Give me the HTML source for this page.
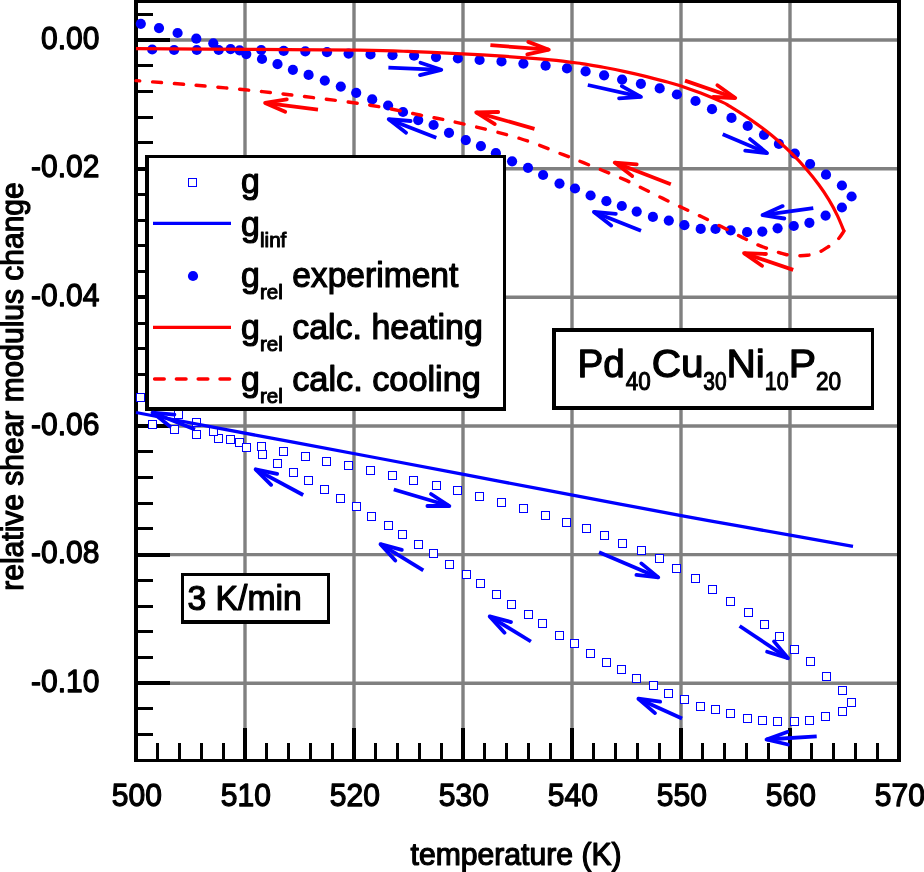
<!DOCTYPE html><html><head><meta charset="utf-8"><title>chart</title>
<style>html,body{margin:0;padding:0;background:#fff}svg{display:block;will-change:transform}text{font-family:"Liberation Sans",sans-serif;fill:#000;stroke:#000;stroke-width:1.2px;stroke-linejoin:round}.sub{stroke-width:1.0px}</style></head><body>
<svg width="924" height="872" viewBox="0 0 924 872">
<rect x="0" y="0" width="924" height="872" fill="#fff"/>
<g stroke="#808080" fill="none">
<line x1="136.0" y1="40.0" x2="899.0" y2="40.0" stroke-width="3.4"/>
<line x1="136.0" y1="168.7" x2="899.0" y2="168.7" stroke-width="3.4"/>
<line x1="136.0" y1="297.3" x2="899.0" y2="297.3" stroke-width="3.4"/>
<line x1="136.0" y1="426.0" x2="899.0" y2="426.0" stroke-width="3.4"/>
<line x1="136.0" y1="554.6" x2="899.0" y2="554.6" stroke-width="3.4"/>
<line x1="136.0" y1="683.2" x2="899.0" y2="683.2" stroke-width="3.4"/>
<line x1="245.0" y1="1.5" x2="245.0" y2="760.5" stroke-width="3.4"/>
<line x1="354.0" y1="1.5" x2="354.0" y2="760.5" stroke-width="3.4"/>
<line x1="463.0" y1="1.5" x2="463.0" y2="760.5" stroke-width="3.4"/>
<line x1="572.0" y1="1.5" x2="572.0" y2="760.5" stroke-width="3.4"/>
<line x1="681.0" y1="1.5" x2="681.0" y2="760.5" stroke-width="3.4"/>
<line x1="790.0" y1="1.5" x2="790.0" y2="760.5" stroke-width="3.4"/>
</g>
<g stroke="#000" fill="none" shape-rendering="crispEdges">
<line x1="136.0" y1="14.27" x2="153.0" y2="14.27" stroke-width="3"/>
<line x1="136.0" y1="40.00" x2="169.8" y2="40.00" stroke-width="4"/>
<line x1="136.0" y1="65.73" x2="153.0" y2="65.73" stroke-width="3"/>
<line x1="136.0" y1="91.46" x2="153.0" y2="91.46" stroke-width="3"/>
<line x1="136.0" y1="117.19" x2="153.0" y2="117.19" stroke-width="3"/>
<line x1="136.0" y1="142.92" x2="153.0" y2="142.92" stroke-width="3"/>
<line x1="136.0" y1="168.65" x2="169.8" y2="168.65" stroke-width="4"/>
<line x1="136.0" y1="194.38" x2="153.0" y2="194.38" stroke-width="3"/>
<line x1="136.0" y1="220.11" x2="153.0" y2="220.11" stroke-width="3"/>
<line x1="136.0" y1="245.84" x2="153.0" y2="245.84" stroke-width="3"/>
<line x1="136.0" y1="271.57" x2="153.0" y2="271.57" stroke-width="3"/>
<line x1="136.0" y1="297.30" x2="169.8" y2="297.30" stroke-width="4"/>
<line x1="136.0" y1="323.03" x2="153.0" y2="323.03" stroke-width="3"/>
<line x1="136.0" y1="348.76" x2="153.0" y2="348.76" stroke-width="3"/>
<line x1="136.0" y1="374.49" x2="153.0" y2="374.49" stroke-width="3"/>
<line x1="136.0" y1="400.22" x2="153.0" y2="400.22" stroke-width="3"/>
<line x1="136.0" y1="425.95" x2="169.8" y2="425.95" stroke-width="4"/>
<line x1="136.0" y1="451.68" x2="153.0" y2="451.68" stroke-width="3"/>
<line x1="136.0" y1="477.41" x2="153.0" y2="477.41" stroke-width="3"/>
<line x1="136.0" y1="503.14" x2="153.0" y2="503.14" stroke-width="3"/>
<line x1="136.0" y1="528.87" x2="153.0" y2="528.87" stroke-width="3"/>
<line x1="136.0" y1="554.60" x2="169.8" y2="554.60" stroke-width="4"/>
<line x1="136.0" y1="580.33" x2="153.0" y2="580.33" stroke-width="3"/>
<line x1="136.0" y1="606.06" x2="153.0" y2="606.06" stroke-width="3"/>
<line x1="136.0" y1="631.79" x2="153.0" y2="631.79" stroke-width="3"/>
<line x1="136.0" y1="657.52" x2="153.0" y2="657.52" stroke-width="3"/>
<line x1="136.0" y1="683.25" x2="169.8" y2="683.25" stroke-width="4"/>
<line x1="136.0" y1="708.98" x2="153.0" y2="708.98" stroke-width="3"/>
<line x1="136.0" y1="734.71" x2="153.0" y2="734.71" stroke-width="3"/>
<line x1="157.80" y1="760.5" x2="157.80" y2="743.1" stroke-width="3"/>
<line x1="179.60" y1="760.5" x2="179.60" y2="743.1" stroke-width="3"/>
<line x1="201.40" y1="760.5" x2="201.40" y2="743.1" stroke-width="3"/>
<line x1="223.20" y1="760.5" x2="223.20" y2="743.1" stroke-width="3"/>
<line x1="245.00" y1="760.5" x2="245.00" y2="727.6" stroke-width="4"/>
<line x1="266.80" y1="760.5" x2="266.80" y2="743.1" stroke-width="3"/>
<line x1="288.60" y1="760.5" x2="288.60" y2="743.1" stroke-width="3"/>
<line x1="310.40" y1="760.5" x2="310.40" y2="743.1" stroke-width="3"/>
<line x1="332.20" y1="760.5" x2="332.20" y2="743.1" stroke-width="3"/>
<line x1="354.00" y1="760.5" x2="354.00" y2="727.6" stroke-width="4"/>
<line x1="375.80" y1="760.5" x2="375.80" y2="743.1" stroke-width="3"/>
<line x1="397.60" y1="760.5" x2="397.60" y2="743.1" stroke-width="3"/>
<line x1="419.40" y1="760.5" x2="419.40" y2="743.1" stroke-width="3"/>
<line x1="441.20" y1="760.5" x2="441.20" y2="743.1" stroke-width="3"/>
<line x1="463.00" y1="760.5" x2="463.00" y2="727.6" stroke-width="4"/>
<line x1="484.80" y1="760.5" x2="484.80" y2="743.1" stroke-width="3"/>
<line x1="506.60" y1="760.5" x2="506.60" y2="743.1" stroke-width="3"/>
<line x1="528.40" y1="760.5" x2="528.40" y2="743.1" stroke-width="3"/>
<line x1="550.20" y1="760.5" x2="550.20" y2="743.1" stroke-width="3"/>
<line x1="572.00" y1="760.5" x2="572.00" y2="727.6" stroke-width="4"/>
<line x1="593.80" y1="760.5" x2="593.80" y2="743.1" stroke-width="3"/>
<line x1="615.60" y1="760.5" x2="615.60" y2="743.1" stroke-width="3"/>
<line x1="637.40" y1="760.5" x2="637.40" y2="743.1" stroke-width="3"/>
<line x1="659.20" y1="760.5" x2="659.20" y2="743.1" stroke-width="3"/>
<line x1="681.00" y1="760.5" x2="681.00" y2="727.6" stroke-width="4"/>
<line x1="702.80" y1="760.5" x2="702.80" y2="743.1" stroke-width="3"/>
<line x1="724.60" y1="760.5" x2="724.60" y2="743.1" stroke-width="3"/>
<line x1="746.40" y1="760.5" x2="746.40" y2="743.1" stroke-width="3"/>
<line x1="768.20" y1="760.5" x2="768.20" y2="743.1" stroke-width="3"/>
<line x1="790.00" y1="760.5" x2="790.00" y2="727.6" stroke-width="4"/>
<line x1="811.80" y1="760.5" x2="811.80" y2="743.1" stroke-width="3"/>
<line x1="833.60" y1="760.5" x2="833.60" y2="743.1" stroke-width="3"/>
<line x1="855.40" y1="760.5" x2="855.40" y2="743.1" stroke-width="3"/>
<line x1="877.20" y1="760.5" x2="877.20" y2="743.1" stroke-width="3"/>
</g>
<g fill="#000" shape-rendering="crispEdges"><rect x="134" y="0" width="4" height="762"/><rect x="897" y="0" width="4" height="762"/><rect x="134" y="0" width="767" height="3"/><rect x="134" y="759" width="767" height="3"/></g>
<g fill="#fff" stroke="#0000ff" stroke-width="1" shape-rendering="crispEdges">
<rect x="148.5" y="420.5" width="8" height="8"/>
<rect x="170.5" y="425.5" width="8" height="8"/>
<rect x="192.5" y="430.5" width="8" height="8"/>
<rect x="214.5" y="434.5" width="8" height="8"/>
<rect x="235.5" y="438.5" width="8" height="8"/>
<rect x="257.5" y="442.5" width="8" height="8"/>
<rect x="279.5" y="447.5" width="8" height="8"/>
<rect x="301.5" y="452.5" width="8" height="8"/>
<rect x="322.5" y="457.5" width="8" height="8"/>
<rect x="344.5" y="461.5" width="8" height="8"/>
<rect x="366.5" y="466.5" width="8" height="8"/>
<rect x="388.5" y="471.5" width="8" height="8"/>
<rect x="409.5" y="476.5" width="8" height="8"/>
<rect x="432.5" y="481.5" width="8" height="8"/>
<rect x="453.5" y="486.5" width="8" height="8"/>
<rect x="475.5" y="492.5" width="8" height="8"/>
<rect x="497.5" y="498.5" width="8" height="8"/>
<rect x="519.5" y="504.5" width="8" height="8"/>
<rect x="541.5" y="511.5" width="8" height="8"/>
<rect x="562.5" y="518.5" width="8" height="8"/>
<rect x="582.5" y="524.5" width="8" height="8"/>
<rect x="600.5" y="531.5" width="8" height="8"/>
<rect x="618.5" y="539.5" width="8" height="8"/>
<rect x="637.5" y="546.5" width="8" height="8"/>
<rect x="655.5" y="554.5" width="8" height="8"/>
<rect x="672.5" y="564.5" width="8" height="8"/>
<rect x="691.5" y="574.5" width="8" height="8"/>
<rect x="708.5" y="585.5" width="8" height="8"/>
<rect x="726.5" y="597.5" width="8" height="8"/>
<rect x="744.5" y="608.5" width="8" height="8"/>
<rect x="760.5" y="620.5" width="8" height="8"/>
<rect x="775.5" y="632.5" width="8" height="8"/>
<rect x="790.5" y="645.5" width="8" height="8"/>
<rect x="806.5" y="657.5" width="8" height="8"/>
<rect x="822.5" y="672.5" width="8" height="8"/>
<rect x="838.5" y="686.5" width="8" height="8"/>
<rect x="847.5" y="698.5" width="8" height="8"/>
<rect x="838.5" y="707.5" width="8" height="8"/>
<rect x="821.5" y="712.5" width="8" height="8"/>
<rect x="805.5" y="716.5" width="8" height="8"/>
<rect x="790.5" y="717.5" width="8" height="8"/>
<rect x="773.5" y="717.5" width="8" height="8"/>
<rect x="758.5" y="716.5" width="8" height="8"/>
<rect x="743.5" y="714.5" width="8" height="8"/>
<rect x="726.5" y="709.5" width="8" height="8"/>
<rect x="711.5" y="705.5" width="8" height="8"/>
<rect x="696.5" y="702.5" width="8" height="8"/>
<rect x="680.5" y="695.5" width="8" height="8"/>
<rect x="664.5" y="689.5" width="8" height="8"/>
<rect x="649.5" y="681.5" width="8" height="8"/>
<rect x="632.5" y="674.5" width="8" height="8"/>
<rect x="617.5" y="665.5" width="8" height="8"/>
<rect x="602.5" y="658.5" width="8" height="8"/>
<rect x="586.5" y="649.5" width="8" height="8"/>
<rect x="570.5" y="639.5" width="8" height="8"/>
<rect x="555.5" y="631.5" width="8" height="8"/>
<rect x="538.5" y="619.5" width="8" height="8"/>
<rect x="524.5" y="610.5" width="8" height="8"/>
<rect x="507.5" y="600.5" width="8" height="8"/>
<rect x="492.5" y="590.5" width="8" height="8"/>
<rect x="476.5" y="579.5" width="8" height="8"/>
<rect x="462.5" y="570.5" width="8" height="8"/>
<rect x="445.5" y="560.5" width="8" height="8"/>
<rect x="429.5" y="549.5" width="8" height="8"/>
<rect x="414.5" y="540.5" width="8" height="8"/>
<rect x="398.5" y="530.5" width="8" height="8"/>
<rect x="384.5" y="521.5" width="8" height="8"/>
<rect x="367.5" y="512.5" width="8" height="8"/>
<rect x="352.5" y="502.5" width="8" height="8"/>
<rect x="336.5" y="494.5" width="8" height="8"/>
<rect x="320.5" y="485.5" width="8" height="8"/>
<rect x="304.5" y="476.5" width="8" height="8"/>
<rect x="289.5" y="468.5" width="8" height="8"/>
<rect x="273.5" y="459.5" width="8" height="8"/>
<rect x="258.5" y="450.5" width="8" height="8"/>
<rect x="242.5" y="443.5" width="8" height="8"/>
<rect x="226.5" y="435.5" width="8" height="8"/>
<rect x="209.5" y="427.5" width="8" height="8"/>
<rect x="192.5" y="418.5" width="8" height="8"/>
<rect x="174.5" y="410.5" width="8" height="8"/>
<rect x="154.5" y="401.5" width="8" height="8"/>
<rect x="136.5" y="393.5" width="8" height="8"/>
</g>
<path d="M136.0 412.5 C156.3 416.4 217.3 427.9 258.0 435.6 C298.7 443.3 339.7 450.9 380.0 458.5 C420.3 466.1 460.0 473.8 500.0 481.4 C540.0 489.0 585.0 497.5 620.0 504.1 C655.0 510.7 680.0 515.3 710.0 520.8 C740.0 526.3 776.2 532.6 800.0 536.9 C823.8 541.2 844.2 544.8 853.0 546.4" stroke="#0000ff" stroke-width="3.3" fill="none"/>
<g fill="#0000ff">
<circle cx="152.2" cy="49.5" r="5.1"/>
<circle cx="174.1" cy="50.0" r="5.1"/>
<circle cx="196.8" cy="50.0" r="5.1"/>
<circle cx="218.7" cy="50.0" r="5.1"/>
<circle cx="239.6" cy="50.3" r="5.1"/>
<circle cx="261.2" cy="50.0" r="5.1"/>
<circle cx="283.7" cy="50.9" r="5.1"/>
<circle cx="305.3" cy="51.4" r="5.1"/>
<circle cx="327.0" cy="52.2" r="5.1"/>
<circle cx="348.6" cy="53.6" r="5.1"/>
<circle cx="370.5" cy="54.4" r="5.1"/>
<circle cx="392.5" cy="55.2" r="5.1"/>
<circle cx="414.1" cy="55.7" r="5.1"/>
<circle cx="436.0" cy="57.1" r="5.1"/>
<circle cx="457.9" cy="58.4" r="5.1"/>
<circle cx="479.6" cy="60.0" r="5.1"/>
<circle cx="501.5" cy="61.4" r="5.1"/>
<circle cx="523.4" cy="63.6" r="5.1"/>
<circle cx="545.6" cy="65.7" r="5.1"/>
<circle cx="567.0" cy="68.4" r="5.1"/>
<circle cx="585.6" cy="71.4" r="5.1"/>
<circle cx="604.1" cy="75.3" r="5.1"/>
<circle cx="622.1" cy="79.6" r="5.1"/>
<circle cx="640.9" cy="83.8" r="5.1"/>
<circle cx="659.7" cy="88.4" r="5.1"/>
<circle cx="676.9" cy="94.5" r="5.1"/>
<circle cx="695.5" cy="101.0" r="5.1"/>
<circle cx="712.0" cy="109.2" r="5.1"/>
<circle cx="731.5" cy="117.9" r="5.1"/>
<circle cx="747.7" cy="126.0" r="5.1"/>
<circle cx="764.0" cy="134.8" r="5.1"/>
<circle cx="778.9" cy="143.9" r="5.1"/>
<circle cx="794.8" cy="153.6" r="5.1"/>
<circle cx="810.1" cy="164.0" r="5.1"/>
<circle cx="826.0" cy="174.7" r="5.1"/>
<circle cx="841.9" cy="185.5" r="5.1"/>
<circle cx="851.6" cy="196.5" r="5.1"/>
<circle cx="841.9" cy="207.5" r="5.1"/>
<circle cx="825.6" cy="215.6" r="5.1"/>
<circle cx="809.4" cy="222.8" r="5.1"/>
<circle cx="793.8" cy="226.0" r="5.1"/>
<circle cx="777.6" cy="228.3" r="5.1"/>
<circle cx="762.3" cy="231.6" r="5.1"/>
<circle cx="747.1" cy="232.2" r="5.1"/>
<circle cx="730.6" cy="230.4" r="5.1"/>
<circle cx="715.5" cy="229.0" r="5.1"/>
<circle cx="700.7" cy="228.9" r="5.1"/>
<circle cx="684.4" cy="225.2" r="5.1"/>
<circle cx="668.8" cy="220.6" r="5.1"/>
<circle cx="652.9" cy="216.9" r="5.1"/>
<circle cx="636.7" cy="211.6" r="5.1"/>
<circle cx="621.8" cy="206.0" r="5.1"/>
<circle cx="606.4" cy="201.2" r="5.1"/>
<circle cx="590.6" cy="195.5" r="5.1"/>
<circle cx="575.0" cy="188.5" r="5.1"/>
<circle cx="559.5" cy="183.6" r="5.1"/>
<circle cx="543.1" cy="175.0" r="5.1"/>
<circle cx="528.0" cy="167.8" r="5.1"/>
<circle cx="512.1" cy="161.3" r="5.1"/>
<circle cx="495.9" cy="153.2" r="5.1"/>
<circle cx="480.9" cy="146.1" r="5.1"/>
<circle cx="465.8" cy="140.1" r="5.1"/>
<circle cx="449.0" cy="132.8" r="5.1"/>
<circle cx="433.6" cy="125.0" r="5.1"/>
<circle cx="418.2" cy="120.1" r="5.1"/>
<circle cx="403.0" cy="112.0" r="5.1"/>
<circle cx="388.1" cy="105.5" r="5.1"/>
<circle cx="372.2" cy="99.4" r="5.1"/>
<circle cx="356.2" cy="92.8" r="5.1"/>
<circle cx="340.8" cy="86.6" r="5.1"/>
<circle cx="324.8" cy="80.6" r="5.1"/>
<circle cx="308.6" cy="74.9" r="5.1"/>
<circle cx="292.9" cy="69.8" r="5.1"/>
<circle cx="277.5" cy="64.1" r="5.1"/>
<circle cx="262.0" cy="59.0" r="5.1"/>
<circle cx="246.3" cy="54.1" r="5.1"/>
<circle cx="230.6" cy="49.2" r="5.1"/>
<circle cx="213.3" cy="43.3" r="5.1"/>
<circle cx="196.3" cy="38.7" r="5.1"/>
<circle cx="177.6" cy="33.0" r="5.1"/>
<circle cx="159.0" cy="28.1" r="5.1"/>
<circle cx="140.8" cy="23.8" r="5.1"/>
</g>
<path d="M136.0 48.7 C155.0 48.8 212.7 49.0 250.0 49.3 C287.3 49.5 333.7 49.9 360.0 50.2 C386.3 50.6 390.5 50.8 407.6 51.4 C424.7 52.0 446.5 53.0 462.4 53.8 C478.3 54.6 488.2 55.2 502.9 56.2 C517.6 57.2 537.4 58.6 550.5 59.8 C563.6 61.0 572.8 62.4 581.6 63.6 C590.4 64.8 596.1 66.0 603.3 67.3 C610.5 68.6 617.7 70.0 624.9 71.6 C632.1 73.1 639.4 74.8 646.6 76.6 C653.8 78.4 662.4 80.6 668.2 82.2 C674.0 83.8 675.8 84.3 681.2 86.1 C686.6 87.9 693.9 90.3 700.7 93.0 C707.6 95.7 717.4 99.9 722.3 102.1 C727.2 104.3 725.3 103.5 730.0 106.4 C734.7 109.3 743.7 114.8 750.6 119.6 C757.5 124.4 764.4 129.4 771.3 135.1 C778.2 140.8 786.0 148.0 791.9 153.7 C797.8 159.4 801.9 164.0 806.4 169.2 C810.9 174.4 815.0 179.5 818.8 184.7 C822.6 189.8 826.0 194.9 829.1 200.1 C832.2 205.2 834.9 210.4 837.4 215.6 C839.9 220.8 842.9 228.5 844.0 231.1" stroke="#ff0000" stroke-width="3.2" fill="none" stroke-linejoin="round"/>
<path d="M844.0 231.1 C842.9 232.6 840.2 237.2 837.4 240.0 C834.6 242.8 830.3 245.5 827.0 247.6 C823.7 249.7 821.1 251.5 817.8 252.8 C814.5 254.1 811.1 254.8 807.4 255.3 C803.7 255.8 799.3 255.7 795.7 255.6 C792.1 255.5 789.3 255.2 785.8 254.5 C782.2 253.8 777.8 252.2 774.4 251.1 C771.0 250.0 768.8 249.1 765.5 247.8 C762.2 246.6 758.1 245.1 754.8 243.6 C751.5 242.1 749.0 240.7 745.5 239.0 C742.0 237.3 738.1 235.3 734.1 233.2 C730.1 231.1 726.7 229.3 721.3 226.6 C715.9 223.9 708.3 220.0 701.8 216.8 C695.3 213.7 688.8 210.8 682.3 207.7 C675.8 204.6 669.3 201.6 662.8 198.4 C656.3 195.2 649.8 191.9 643.3 188.7 C636.8 185.5 630.6 182.4 623.9 179.4 C617.2 176.4 610.0 173.5 603.3 170.7 C596.5 167.9 590.1 165.4 583.4 162.7 C576.7 160.0 573.8 158.7 563.2 154.7 C552.6 150.7 536.9 143.7 520.0 138.5 C503.1 133.3 478.7 127.5 462.0 123.6 C445.3 119.7 435.3 118.1 420.0 115.0 C404.7 111.9 390.0 108.4 370.0 105.2 C350.0 102.0 320.8 98.6 300.0 96.0 C279.2 93.4 263.3 91.7 245.0 89.8 C226.7 87.9 208.2 86.3 190.0 84.8 C171.8 83.3 145.0 81.3 136.0 80.6" stroke="#ff0000" stroke-width="3.4" fill="none" stroke-dasharray="9.0 12.84" stroke-linecap="round"/>
<g shape-rendering="crispEdges"><rect x="145" y="155" width="361" height="256" fill="#000"/><rect x="149" y="158" width="354" height="249" fill="#fff"/></g>
<rect x="188.5" y="178.5" width="8" height="8" fill="#fff" stroke="#0000ff" stroke-width="1" shape-rendering="crispEdges"/>
<line x1="153" y1="223.4" x2="231" y2="223.4" stroke="#0000ff" stroke-width="3.2"/>
<circle cx="193" cy="276" r="5.1" fill="#0000ff"/>
<line x1="153" y1="327.4" x2="231" y2="327.4" stroke="#ff0000" stroke-width="3.2"/>
<line x1="154.6" y1="379.0" x2="229.7" y2="379.0" stroke="#ff0000" stroke-width="3.5" stroke-dasharray="9.6 12.2" stroke-linecap="round"/>
<text transform="translate(241.07,193.4) scale(1,1.030)" font-size="34" textLength="18.82" lengthAdjust="spacingAndGlyphs">g</text>
<text transform="translate(241.07,235.8) scale(1,1.030)" font-size="34" textLength="18.82" lengthAdjust="spacingAndGlyphs">g</text><text transform="translate(259.95,246.8) scale(1,1.030)" font-size="20" textLength="26.42" lengthAdjust="spacingAndGlyphs" class="sub">linf</text>
<text transform="translate(241.07,286.6) scale(1,1.030)" font-size="34" textLength="18.82" lengthAdjust="spacingAndGlyphs">g</text><text transform="translate(259.97,298.5) scale(1,1.030)" font-size="20" textLength="22.87" lengthAdjust="spacingAndGlyphs" class="sub">rel</text><text transform="translate(292.16,286.6) scale(1,1.030)" font-size="34" textLength="166.19" lengthAdjust="spacingAndGlyphs">experiment</text>
<text transform="translate(241.07,338.9) scale(1,1.030)" font-size="34" textLength="18.82" lengthAdjust="spacingAndGlyphs">g</text><text transform="translate(259.97,350.8) scale(1,1.030)" font-size="20" textLength="22.87" lengthAdjust="spacingAndGlyphs" class="sub">rel</text><text transform="translate(292.16,338.9) scale(1,1.030)" font-size="34" textLength="190.74" lengthAdjust="spacingAndGlyphs">calc. heating</text>
<text transform="translate(241.07,391.2) scale(1,1.030)" font-size="34" textLength="18.82" lengthAdjust="spacingAndGlyphs">g</text><text transform="translate(259.97,403.1) scale(1,1.030)" font-size="20" textLength="22.87" lengthAdjust="spacingAndGlyphs" class="sub">rel</text><text transform="translate(292.16,391.2) scale(1,1.030)" font-size="34" textLength="188.74" lengthAdjust="spacingAndGlyphs">calc. cooling</text>
<g shape-rendering="crispEdges"><rect x="552" y="328" width="322" height="82" fill="#000"/><rect x="556" y="332" width="315" height="74" fill="#fff"/></g>
<text transform="translate(577.58,377.4) scale(1,1.045)" font-size="38" textLength="47.27" lengthAdjust="spacingAndGlyphs">Pd</text>
<text transform="translate(651.67,377.4) scale(1,1.045)" font-size="38" textLength="51.95" lengthAdjust="spacingAndGlyphs">Cu</text>
<text transform="translate(726.48,377.4) scale(1,1.045)" font-size="38" textLength="38.38" lengthAdjust="spacingAndGlyphs">Ni</text>
<text transform="translate(788.78,377.4) scale(1,1.045)" font-size="38" textLength="27.32" lengthAdjust="spacingAndGlyphs">P</text>
<text transform="translate(625.72,390.4) scale(1,1.120)" font-size="23" textLength="24.93" lengthAdjust="spacingAndGlyphs" class="sub">40</text>
<text transform="translate(703.27,390.4) scale(1,1.120)" font-size="23" textLength="23.27" lengthAdjust="spacingAndGlyphs" class="sub">30</text>
<text transform="translate(764.80,390.4) scale(1,1.120)" font-size="23" textLength="23.75" lengthAdjust="spacingAndGlyphs" class="sub">10</text>
<text transform="translate(815.99,390.4) scale(1,1.120)" font-size="23" textLength="25.16" lengthAdjust="spacingAndGlyphs" class="sub">20</text>
<g shape-rendering="crispEdges"><rect x="181" y="573" width="149" height="51" fill="#000"/><rect x="184" y="576" width="143" height="44" fill="#fff"/></g>
<text transform="translate(187.41,610.4) scale(1,1.030)" font-size="34" textLength="114.50" lengthAdjust="spacingAndGlyphs">3 K/min</text>
<g stroke="#ff0000" stroke-width="3.8" fill="none"><path d="M318.0 109.6 L265.1 102.9"/><path d="M286.8 99.4 L265.1 102.9 L285.2 111.8" stroke-linecap="round" stroke-linejoin="round"/></g>
<g stroke="#ff0000" stroke-width="3.8" fill="none"><path d="M490.4 45.2 L548.8 49.7"/><path d="M527.3 54.3 L548.8 49.7 L528.3 41.9" stroke-linecap="round" stroke-linejoin="round"/></g>
<g stroke="#ff0000" stroke-width="3.8" fill="none"><path d="M534.5 128.8 L476.2 112.3"/><path d="M498.2 112.0 L476.2 112.3 L494.8 124.1" stroke-linecap="round" stroke-linejoin="round"/></g>
<g stroke="#ff0000" stroke-width="3.8" fill="none"><path d="M685.0 80.6 L735.3 98.0"/><path d="M713.3 97.0 L735.3 98.0 L717.4 85.2" stroke-linecap="round" stroke-linejoin="round"/></g>
<g stroke="#ff0000" stroke-width="3.8" fill="none"><path d="M670.8 184.2 L614.7 162.6"/><path d="M636.7 164.4 L614.7 162.6 L632.2 176.0" stroke-linecap="round" stroke-linejoin="round"/></g>
<g stroke="#ff0000" stroke-width="3.8" fill="none"><path d="M793.2 269.9 L744.0 253.1"/><path d="M766.0 254.0 L744.0 253.1 L762.0 265.8" stroke-linecap="round" stroke-linejoin="round"/></g>
<g stroke="#0000ff" stroke-width="3.8" fill="none"><path d="M388.4 67.6 L441.3 69.8"/><path d="M420.0 75.1 L441.3 69.8 L420.5 62.7" stroke-linecap="round" stroke-linejoin="round"/></g>
<g stroke="#0000ff" stroke-width="3.8" fill="none"><path d="M436.3 137.7 L388.7 119.2"/><path d="M410.6 121.0 L388.7 119.2 L406.1 132.7" stroke-linecap="round" stroke-linejoin="round"/></g>
<g stroke="#0000ff" stroke-width="3.8" fill="none"><path d="M587.8 85.0 L641.0 96.8"/><path d="M619.1 98.4 L641.0 96.8 L621.8 86.2" stroke-linecap="round" stroke-linejoin="round"/></g>
<g stroke="#0000ff" stroke-width="3.8" fill="none"><path d="M722.7 134.2 L767.1 153.1"/><path d="M745.2 150.6 L767.1 153.1 L750.1 139.1" stroke-linecap="round" stroke-linejoin="round"/></g>
<g stroke="#0000ff" stroke-width="3.8" fill="none"><path d="M813.3 208.2 L762.6 215.1"/><path d="M782.6 206.1 L762.6 215.1 L784.3 218.5" stroke-linecap="round" stroke-linejoin="round"/></g>
<g stroke="#0000ff" stroke-width="3.8" fill="none"><path d="M641.0 230.7 L593.9 211.9"/><path d="M615.8 213.9 L593.9 211.9 L611.2 225.6" stroke-linecap="round" stroke-linejoin="round"/></g>
<g stroke="#0000ff" stroke-width="3.8" fill="none"><path d="M195.0 429.4 L152.5 412.6"/><path d="M174.4 414.6 L152.5 412.6 L169.8 426.2" stroke-linecap="round" stroke-linejoin="round"/></g>
<g stroke="#0000ff" stroke-width="3.8" fill="none"><path d="M303.2 495.0 L255.6 469.3"/><path d="M277.1 473.8 L255.6 469.3 L271.1 484.8" stroke-linecap="round" stroke-linejoin="round"/></g>
<g stroke="#0000ff" stroke-width="3.8" fill="none"><path d="M393.8 489.5 L449.4 506.0"/><path d="M427.4 506.0 L449.4 506.0 L431.0 494.0" stroke-linecap="round" stroke-linejoin="round"/></g>
<g stroke="#0000ff" stroke-width="3.8" fill="none"><path d="M423.3 570.4 L380.5 544.2"/><path d="M401.8 549.9 L380.5 544.2 L395.3 560.6" stroke-linecap="round" stroke-linejoin="round"/></g>
<g stroke="#0000ff" stroke-width="3.8" fill="none"><path d="M599.0 552.2 L658.3 577.4"/><path d="M636.4 574.9 L658.3 577.4 L641.3 563.4" stroke-linecap="round" stroke-linejoin="round"/></g>
<g stroke="#0000ff" stroke-width="3.8" fill="none"><path d="M530.9 641.5 L489.7 616.4"/><path d="M511.0 622.1 L489.7 616.4 L504.5 632.7" stroke-linecap="round" stroke-linejoin="round"/></g>
<g stroke="#0000ff" stroke-width="3.8" fill="none"><path d="M739.6 626.0 L788.1 658.3"/><path d="M767.1 651.8 L788.1 658.3 L774.0 641.4" stroke-linecap="round" stroke-linejoin="round"/></g>
<g stroke="#0000ff" stroke-width="3.8" fill="none"><path d="M682.0 718.5 L638.4 698.7"/><path d="M660.2 701.7 L638.4 698.7 L655.0 713.1" stroke-linecap="round" stroke-linejoin="round"/></g>
<g stroke="#0000ff" stroke-width="3.8" fill="none"><path d="M816.7 736.4 L766.5 739.5"/><path d="M787.2 732.0 L766.5 739.5 L787.9 744.5" stroke-linecap="round" stroke-linejoin="round"/></g>
<text transform="translate(99.4,48.5) scale(1,1.070)" font-size="30" text-anchor="end">0.00</text>
<text transform="translate(99.4,177.2) scale(1,1.070)" font-size="30" text-anchor="end">-0.02</text>
<text transform="translate(99.4,305.8) scale(1,1.070)" font-size="30" text-anchor="end">-0.04</text>
<text transform="translate(99.4,434.5) scale(1,1.070)" font-size="30" text-anchor="end">-0.06</text>
<text transform="translate(99.4,563.1) scale(1,1.070)" font-size="30" text-anchor="end">-0.08</text>
<text transform="translate(99.4,691.8) scale(1,1.070)" font-size="30" text-anchor="end">-0.10</text>
<text transform="translate(136.8,806.4) scale(1,1.070)" font-size="30" text-anchor="middle">500</text>
<text transform="translate(245.8,806.4) scale(1,1.070)" font-size="30" text-anchor="middle">510</text>
<text transform="translate(354.8,806.4) scale(1,1.070)" font-size="30" text-anchor="middle">520</text>
<text transform="translate(463.8,806.4) scale(1,1.070)" font-size="30" text-anchor="middle">530</text>
<text transform="translate(572.8,806.4) scale(1,1.070)" font-size="30" text-anchor="middle">540</text>
<text transform="translate(681.8,806.4) scale(1,1.070)" font-size="30" text-anchor="middle">550</text>
<text transform="translate(790.8,806.4) scale(1,1.070)" font-size="30" text-anchor="middle">560</text>
<text transform="translate(899.8,806.4) scale(1,1.070)" font-size="30" text-anchor="middle">570</text>
<text transform="translate(410.55,864.8) scale(1,1.040)" font-size="30" textLength="211.01" lengthAdjust="spacingAndGlyphs">temperature (K)</text>
<text transform="translate(23.0,386.5) rotate(-90) scale(1,1.040)" font-size="30" text-anchor="middle">relative shear modulus change</text>
</svg></body></html>
